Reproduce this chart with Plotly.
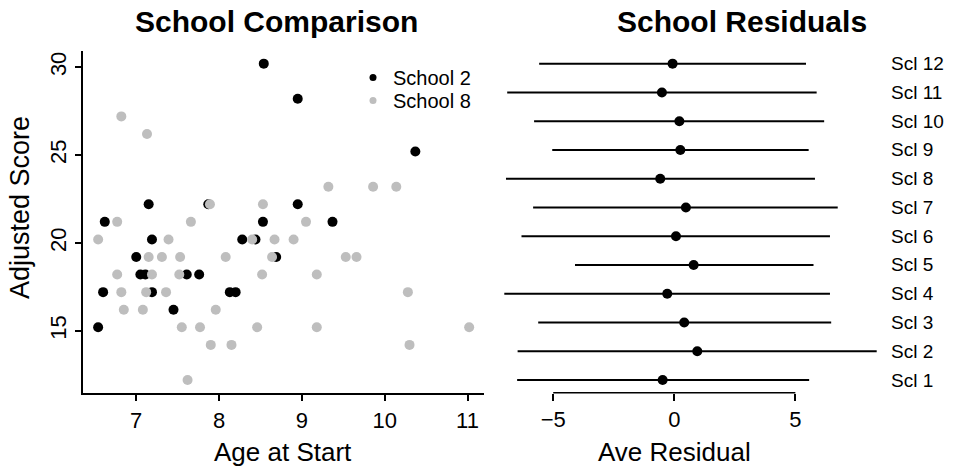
import plotly.graph_objects as go

# ---- School 2 and School 8: age at start vs adjusted score ----
s2_age = [8.54, 8.95, 10.37, 7.15, 7.87, 8.95, 6.62, 8.53, 9.37, 7.19, 8.28, 8.44,
          7.00, 8.69, 7.05, 7.11, 7.61, 7.76, 6.60, 7.19, 8.13, 8.20, 7.45, 6.54]
s2_score = [30.2, 28.2, 25.2, 22.2, 22.2, 22.2, 21.2, 21.2, 21.2, 20.2, 20.2, 20.2,
            19.2, 19.2, 18.2, 18.2, 18.2, 18.2, 17.2, 17.2, 17.2, 17.2, 16.2, 15.2]

s8_age = [6.82, 7.13, 9.32, 9.86, 10.14, 7.89, 8.53, 6.77, 7.66, 9.05,
          6.54, 7.39, 8.40, 8.67, 8.90, 7.15, 7.31, 7.53, 8.08, 8.64, 9.53, 9.66,
          6.77, 7.19, 7.52, 8.52, 9.18, 6.82, 7.12, 7.36, 10.28,
          6.85, 7.08, 7.96, 7.55, 7.77, 8.46, 9.18, 11.02, 7.90, 8.15, 10.30, 7.62]
s8_score = [27.2, 26.2, 23.2, 23.2, 23.2, 22.2, 22.2, 21.2, 21.2, 21.2,
            20.2, 20.2, 20.2, 20.2, 20.2, 19.2, 19.2, 19.2, 19.2, 19.2, 19.2, 19.2,
            18.2, 18.2, 18.2, 18.2, 18.2, 17.2, 17.2, 17.2, 17.2,
            16.2, 16.2, 16.2, 15.2, 15.2, 15.2, 15.2, 15.2, 14.2, 14.2, 14.2, 12.2]

# ---- average residual per school with interval ----
schools = ["Scl 1", "Scl 2", "Scl 3", "Scl 4", "Scl 5", "Scl 6",
           "Scl 7", "Scl 8", "Scl 9", "Scl 10", "Scl 11", "Scl 12"]
resid_mean = [-0.48, 0.95, 0.41, -0.29, 0.80, 0.07, 0.48, -0.58, 0.25, 0.21, -0.51, -0.07]
resid_low = [-6.49, -6.47, -5.62, -7.02, -4.10, -6.31, -5.83, -6.95, -5.04, -5.79, -6.90, -5.58]
resid_high = [5.57, 8.36, 6.48, 6.43, 5.75, 6.43, 6.75, 5.81, 5.55, 6.19, 5.88, 5.44]

x_ticks_left = [7, 8, 9, 10, 11]
y_ticks_left = [15, 20, 25, 30]
x_ticks_right = [-5, 0, 5]

W, H = 954, 469
FONT = "Liberation Sans, Arial, Helvetica, sans-serif"
GRAY = "#BEBEBE"

def px(x):
    return x / W

def py(y):
    return 1 - y / H

plot_top, plot_bottom = 51, 392.7
ydom = [py(plot_bottom), py(plot_top)]

fig = go.Figure()

# left panel points
fig.add_trace(go.Scatter(x=s2_age, y=s2_score, mode="markers",
                         marker=dict(color="black", size=10), showlegend=False,
                         xaxis="x", yaxis="y"))
fig.add_trace(go.Scatter(x=s8_age, y=s8_score, mode="markers",
                         marker=dict(color=GRAY, size=10), showlegend=False,
                         xaxis="x", yaxis="y"))
# legend entries (smaller dots), one legend box per row for tight spacing
fig.add_trace(go.Scatter(x=[None], y=[None], mode="markers", name="School 2",
                         marker=dict(color="black", size=7), legend="legend",
                         xaxis="x", yaxis="y"))
fig.add_trace(go.Scatter(x=[None], y=[None], mode="markers", name="School 8",
                         marker=dict(color=GRAY, size=7), legend="legend2",
                         xaxis="x", yaxis="y"))

# right panel intervals
school_pos = list(range(1, len(schools) + 1))
err_plus = [h - m for h, m in zip(resid_high, resid_mean)]
err_minus = [m - l for m, l in zip(resid_mean, resid_low)]
fig.add_trace(go.Scatter(x=resid_mean, y=school_pos, mode="markers",
                         marker=dict(color="black", size=10), showlegend=False,
                         error_x=dict(type="data", symmetric=False, array=err_plus,
                                      arrayminus=err_minus, width=0, thickness=2,
                                      color="black"),
                         xaxis="x2", yaxis="y2"))

# ranges padded 4% like base graphics
def padded(lo, hi):
    d = (hi - lo) * 0.04
    return [lo - d, hi + d]

all_age = s2_age + s8_age
all_score = s2_score + s8_score
xr = padded(min(all_age), max(all_age))
yr = padded(min(all_score), max(all_score))
x2r = padded(min(resid_low), max(resid_high))
y2r = padded(1, len(schools))

axis_font = dict(family=FONT, size=22, color="black")
legend_style = dict(xanchor="left", yanchor="top",
                    font=dict(family=FONT, size=20, color="black"),
                    bgcolor="rgba(0,0,0,0)", borderwidth=0)

fig.update_layout(
    width=W, height=H,
    margin=dict(l=0, r=0, t=0, b=0),
    paper_bgcolor="white", plot_bgcolor="white",
    font=dict(family=FONT, color="black"),
    xaxis=dict(domain=[px(83.3), px(484)], range=xr, tickvals=x_ticks_left,
               showline=True, linecolor="black", linewidth=1.5,
               ticks="outside", ticklen=7, tickwidth=1.5, tickcolor="black",
               showgrid=False, zeroline=False, tickfont=axis_font, anchor="y"),
    yaxis=dict(domain=ydom, range=yr, tickvals=y_ticks_left, tickangle=-90,
               showline=True, linecolor="black", linewidth=1.5,
               ticks="outside", ticklen=7, tickwidth=1.5, tickcolor="black",
               showgrid=False, zeroline=False, tickfont=axis_font, anchor="x"),
    xaxis2=dict(domain=[px(489.4), px(891.6)], range=x2r, tickvals=x_ticks_right,
                ticktext=["\u22125", "0", "5"],
                showline=False, ticks="outside", ticklen=7, tickwidth=1.5,
                tickcolor="black", showgrid=False, zeroline=False,
                tickfont=axis_font, anchor="y2"),
    yaxis2=dict(domain=ydom, range=y2r, showticklabels=False, showline=False,
                ticks="", showgrid=False, zeroline=False, anchor="x2"),
    legend=dict(x=px(353), y=py(58), **legend_style),
    legend2=dict(x=px(353), y=py(81), **legend_style),
)

# bottom axis line of the residual panel spans only the tick range
fig.add_shape(type="line", xref="x2", yref="paper",
              x0=x_ticks_right[0], x1=x_ticks_right[-1],
              y0=py(plot_bottom), y1=py(plot_bottom),
              line=dict(color="black", width=1.5))

# school labels to the right of the intervals
for name, pos in zip(schools, school_pos):
    fig.add_annotation(text=name, x=px(889), y=pos, xref="paper", yref="y2",
                       xanchor="left", yanchor="middle", showarrow=False,
                       font=dict(family=FONT, size=19, color="black"))

# titles and axis labels
fig.add_annotation(text="<b>School Comparison</b>", x=px(276), y=py(21), xref="paper",
                   yref="paper", xanchor="center", yanchor="middle", showarrow=False,
                   font=dict(family=FONT, size=30, color="black"))
fig.add_annotation(text="<b>School Residuals</b>", x=px(742), y=py(21), xref="paper",
                   yref="paper", xanchor="center", yanchor="middle", showarrow=False,
                   font=dict(family=FONT, size=30, color="black"))
fig.add_annotation(text="Age at Start", x=px(283), y=py(452), xref="paper",
                   yref="paper", xanchor="center", yanchor="middle", showarrow=False,
                   font=dict(family=FONT, size=26, color="black"))
fig.add_annotation(text="Ave Residual", x=px(674), y=py(452), xref="paper",
                   yref="paper", xanchor="center", yanchor="middle", showarrow=False,
                   font=dict(family=FONT, size=26, color="black"))
fig.add_annotation(text="Adjusted Score", x=px(20), y=py(208), xref="paper",
                   yref="paper", xanchor="center", yanchor="middle", showarrow=False,
                   textangle=-90, font=dict(family=FONT, size=27, color="black"))

fig.write_html("out.html")
